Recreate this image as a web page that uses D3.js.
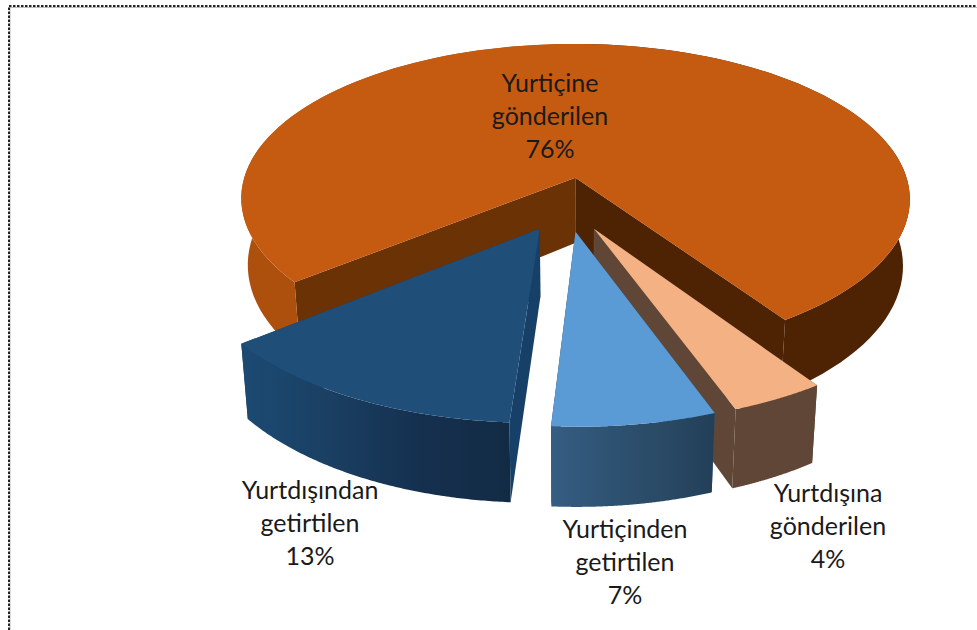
<!DOCTYPE html>
<html><head><meta charset="utf-8">
<style>html,body{margin:0;padding:0;background:#fff}svg{display:block}</style>
<script src="https://cdn.jsdelivr.net/npm/d3@7"></script>
</head><body><svg id="c" width="977" height="630"></svg>
<script>
const categories = ["Yurtiçine gönderilen", "Yurtdışına gönderilen", "Yurtiçinden getirtilen", "Yurtdışından getirtilen"];
const shares = [76.4, 3.85, 6.6, 13.15];
const labelLines = [["Yurtiçine", "gönderilen"], ["Yurtdışına", "gönderilen"], ["Yurtiçinden", "getirtilen"], ["Yurtdışından", "getirtilen"]];
const topColors = ["#c55a11", "#f4b183", "#5b9bd5", "#1f4e79"];
const labelAnchors = [[550, 92], [828, 502], [625, 538], [310, 499]];
const wallStops = [["#ad500e", "#ad500e", "#4e2303", "#4e2303"], ["#5f4636", "#5f4636", "#5f4636", "#5f4636"], ["#365d83", "#2e5373", "#2a4a66", "#233f58"], ["#1c4a73", "#1a3f62", "#15304f", "#122b45"]];
const radialColors = [["#6b3206", "#4e2303"], ["#5f4636", "#5f4636"], ["#365d83", "#233f58"], ["#174068", "#174068"]];

const cx = 567, cy = 204, R = 339, k = 0.47, p = 0.14, D = 67, E = 58, taper = 0.02;
const pie = d3.pie().sort(null).value(d => d).startAngle(-129 * Math.PI / 180).endAngle(231 * Math.PI / 180);
const arcs = pie(shares);

const svg = d3.select("#c");
const defs = svg.append("defs");
const line = d3.line();

function proj(X, Y, Z) {
  const s = 1 / (1 + p * Y / R);
  return [cx + X * s * (1 - taper * Z / D), cy - k * Y * s + Z * s];
}

arcs.forEach((a, i) => {
  const mid = (a.startAngle + a.endAngle) / 2;
  const ox = E * Math.sin(mid), oy = E * Math.cos(mid);
  const pt = (r, t, z) => proj(ox + r * R * Math.sin(t), oy + r * R * Math.cos(t), z);
  const ts = d3.range(0, 121).map(j => a.startAngle + (a.endAngle - a.startAngle) * j / 120);
  const rim = ts.map(t => pt(1, t, 0));
  const rimLow = ts.map(t => pt(1, t, D));
  const apex = pt(0, 0, 0), apexLow = pt(0, 0, D);
  const xs = rim.map(q => q[0]);
  const g = svg.append("g");
  const gid = "w" + i;
  const grad = defs.append("linearGradient").attr("id", gid).attr("gradientUnits", "userSpaceOnUse")
    .attr("x1", d3.min(xs)).attr("x2", d3.max(xs)).attr("y1", 0).attr("y2", 0);
  wallStops[i].forEach((c, j) => grad.append("stop").attr("offset", i === 0 ? [0, 0.5, 0.5, 1][j] : j / 3).attr("stop-color", c));
  g.append("path").attr("d", line([apex, rim[0], rimLow[0], apexLow]) + "Z").attr("fill", radialColors[i][0]);
  g.append("path").attr("d", line([apex, rim[120], rimLow[120], apexLow]) + "Z").attr("fill", radialColors[i][1]);
  g.append("path").attr("d", line(rim.concat(rimLow.slice().reverse())) + "Z").attr("fill", `url(#${gid})`);
  g.append("path").attr("d", line([apex].concat(rim)) + "Z").attr("fill", topColors[i]);
});

arcs.forEach((a, i) => {
  const t = svg.append("text").attr("font-family", "Lato, 'Open Sans', sans-serif").attr("font-size", 25)
    .attr("fill", "#1a1a1a").attr("text-anchor", "middle");
  const rows = labelLines[i].concat(d3.format(".0f")(a.value) + "%");
  rows.forEach((r, j) => t.append("tspan").attr("x", labelAnchors[i][0]).attr("y", labelAnchors[i][1] + j * 33).text(r));
});

svg.append("path").attr("d", "M10 630V7.5H977").attr("fill", "none").attr("stroke", "#bbb").attr("stroke-width", 1);
svg.append("path").attr("d", "M9 630V6H977").attr("fill", "none").attr("stroke", "#222").attr("stroke-width", 2).attr("stroke-dasharray", "2.5 1.5");
</script></body></html>
